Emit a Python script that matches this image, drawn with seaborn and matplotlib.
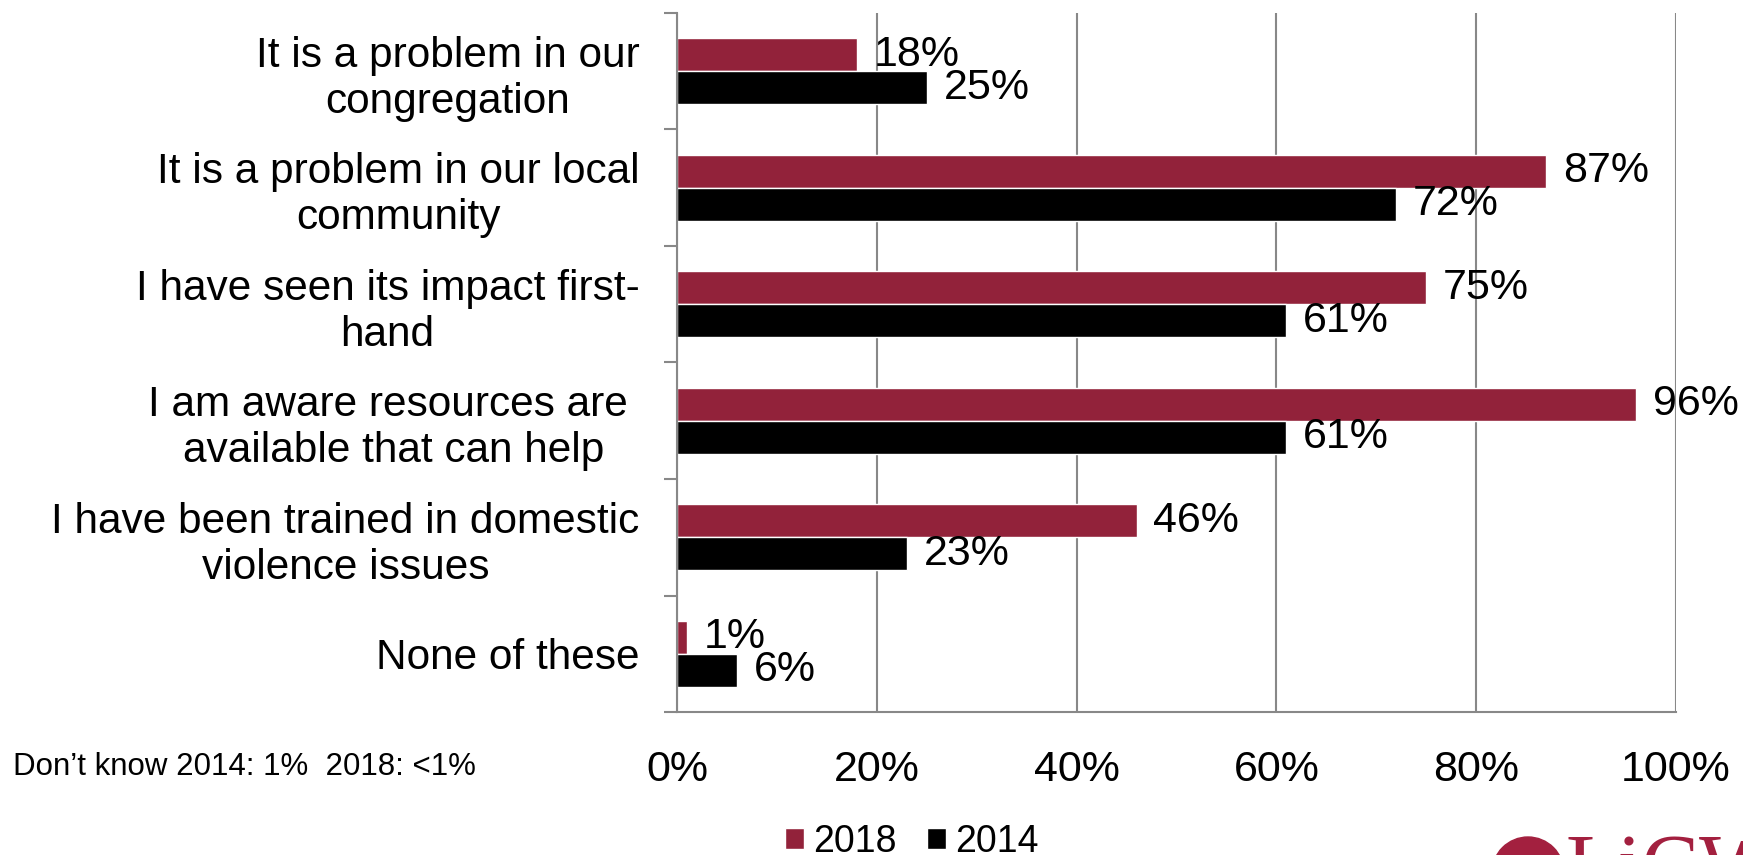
import pandas as pd
import matplotlib.pyplot as plt
import seaborn as sns
from matplotlib.patches import Patch, Ellipse
from matplotlib.ticker import FixedLocator, PercentFormatter

# Survey results: awareness of domestic violence, 2018 vs 2014
categories = ['It is a problem in our\ncongregation',
              'It is a problem in our local\ncommunity',
              'I have seen its impact first-\nhand',
              'I am aware resources are \navailable that can help',
              'I have been trained in domestic\nviolence issues',
              'None of these']
values_2018 = [18, 87, 75, 96, 46, 1]
values_2014 = [25, 72, 61, 61, 23, 6]
years = ['2018', '2014']
colors = ['#92223A', '#000000']
x_ticks = [0, 20, 40, 60, 80, 100]
footnote = 'Don\u2019t know 2014: 1%  2018: <1%'

df = pd.DataFrame({
    'Category': categories * 2,
    'Value': values_2018 + values_2014,
    'Year': ['2018'] * len(categories) + ['2014'] * len(categories),
})

sns.set_style('white')
plt.rcParams['font.family'] = ['Liberation Sans', 'DejaVu Sans']
plt.rcParams['text.color'] = 'black'
plt.rcParams['xtick.color'] = 'black'
plt.rcParams['ytick.color'] = 'black'

W, H = 1743, 855
fig = plt.figure(figsize=(W / 100, H / 100), dpi=100)
ax = fig.add_axes([677 / W, 1 - 712 / H, 999 / W, 699 / H])

sns.barplot(data=df, x='Value', y='Category', hue='Year', hue_order=years,
            order=categories, palette=colors, orient='h', width=0.57,
            dodge=True, legend=False, ax=ax, saturation=1)

# value labels at the end of each bar
for cont in ax.containers:
    ax.bar_label(cont, labels=[f'{v:.0f}%' for v in cont.datavalues],
                 padding=12, fontsize=31, color='black')

ax.set_xlim(0, 100)
ax.set_ylim(5.5, -0.5)
ax.set_xticks(x_ticks)
ax.xaxis.set_major_formatter(PercentFormatter(decimals=0))
ax.tick_params(axis='x', length=0, pad=27, labelsize=31, labelcolor='black')
ax.grid(axis='x', color='#888888', linewidth=1.5)
ax.set_axisbelow(True)

ax.yaxis.set_minor_locator(FixedLocator([i - 0.5 for i in range(len(categories) + 1)]))
ax.tick_params(axis='y', which='major', length=0, pad=27, labelsize=30.5,
               labelcolor='black')
ax.tick_params(axis='y', which='minor', length=9.5, width=1.5, color='#888888',
               direction='out', left=True)
for lbl in ax.get_yticklabels():
    lbl.set_multialignment('center')

ax.set_xlabel('')
ax.set_ylabel('')
for side in ['top', 'right']:
    ax.spines[side].set_visible(False)
for side in ['left', 'bottom']:
    ax.spines[side].set_color('#888888')
    ax.spines[side].set_linewidth(1.5)

# legend below the chart
handles = [Patch(facecolor=c, label=y) for c, y in zip(colors, years)]
fig.legend(handles=handles, loc='center', bbox_to_anchor=(912 / W, 1 - 842 / H),
           ncol=2, frameon=False, fontsize=27, handlelength=0.5, handleheight=0.5,
           handletextpad=0.25, columnspacing=0.8)

fig.text(13 / W, 1 - 767 / H, footnote, fontsize=22.5, va='center', ha='left')

# partial logo in the bottom-right corner
fig.text(1566 / W, 1 - 894 / H, 'LiCW', fontsize=62, va='baseline', ha='left',
         color='#A3203F', family=['Liberation Serif', 'DejaVu Serif'])
fig.patches.append(Ellipse((1528 / W, 1 - 873 / H), 72 / W, 72 / H,
                           transform=fig.transFigure, color='#A3203F'))

fig.savefig('out.png', dpi=100)
